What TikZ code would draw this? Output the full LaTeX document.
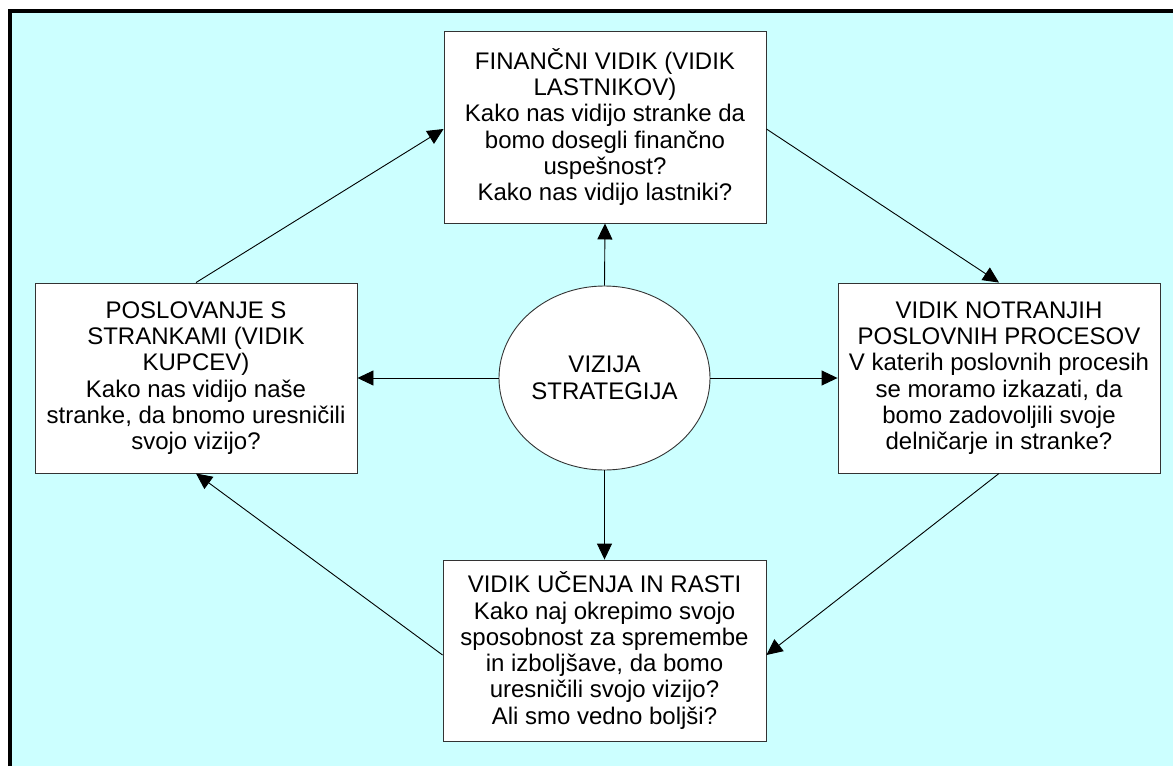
\documentclass[tikz,border=0pt]{standalone}
\usepackage{fontspec}
\setmainfont{Liberation Sans}
\usetikzlibrary{arrows.meta,shapes.geometric}
\definecolor{bgcyan}{HTML}{CCFFFF}
\definecolor{edgegray}{HTML}{333333}
\begin{document}
\begin{tikzpicture}[x=1pt,y=-1pt,
  every node/.style={font=\fontsize{24}{26.3}\selectfont, text=black, inner sep=0pt},
  persp/.style={rectangle, draw=edgegray, line width=0.9pt, fill=white, align=center},
  core/.style={ellipse, draw=edgegray, line width=0.9pt, fill=white, align=center,
               minimum width=211pt, minimum height=184pt},
  link/.style={draw=black, line width=0.9pt, -{Triangle[length=16pt,width=15pt]}}]
  \useasboundingbox (0,0) rectangle (1173,766);
  % background panel with its heavy frame (left and top edges)
  \fill[bgcyan] (9.8,10.7) rectangle (1173,766);
  \draw[line width=3.6pt] (9.8,766) -- (9.8,10.7) -- (1173,10.7);

  % the four perspectives
  \node[persp, minimum width=322pt, minimum height=192pt] (fin) at (605,127)
    {FINANČNI VIDIK (VIDIK\\LASTNIKOV)\\Kako nas vidijo stranke da\\bomo dosegli finančno\\uspešnost?\\Kako nas vidijo lastniki?};
  \node[persp, minimum width=322pt, minimum height=190pt] (cust) at (196,378)
    {POSLOVANJE S\\STRANKAMI (VIDIK\\KUPCEV)\\Kako nas vidijo naše\\stranke, da bnomo uresničili\\svojo vizijo?};
  \node[persp, minimum width=322pt, minimum height=190pt] (proc) at (999,378)
    {VIDIK NOTRANJIH\\POSLOVNIH PROCESOV\\V katerih poslovnih procesih\\se moramo izkazati, da\\bomo zadovoljili svoje\\delničarje in stranke?};
  \node[persp, minimum width=323pt, minimum height=181pt] (learn) at (604.5,650.5)
    {VIDIK UČENJA IN RASTI\\Kako naj okrepimo svojo\\sposobnost za spremembe\\in izboljšave, da bomo\\uresničili svojo vizijo?\\Ali smo vedno boljši?};

  % vision and strategy in the middle
  \node[core] (vis) at (604.5,378) {VIZIJA\\STRATEGIJA};

  % spokes from the centre
  \draw[link] (vis.north) -- (fin.south);
  \draw[link] (vis.west) -- (cust.east);
  \draw[link] (vis.east) -- (proc.west);
  \draw[link] (vis.south) -- (learn.north);

  % the cycle around the outside
  \draw[link] (cust.north) -- ([yshift=-2pt]fin.west);
  \draw[link] ([yshift=-2pt]fin.east) -- (proc.north);
  \draw[link] (proc.south) -- ([yshift=-4.5pt]learn.east);
  \draw[link] ([yshift=-4.5pt]learn.west) -- (cust.south);
\end{tikzpicture}
\end{document}
